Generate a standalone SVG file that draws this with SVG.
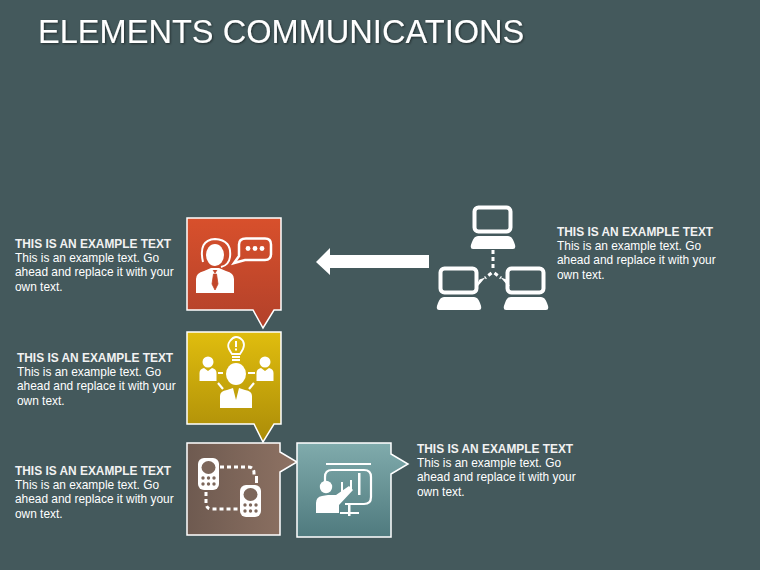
<svg xmlns="http://www.w3.org/2000/svg" width="760" height="570" viewBox="0 0 760 570">
<style>
.t{font-family:"Liberation Sans",Arial,sans-serif;font-size:11.9px;fill:#fff}
.h{font-weight:bold;font-size:11.9px;fill:#f2f2f2}
.title{font-family:"Liberation Sans",Arial,sans-serif;font-size:32.6px;fill:#fff}
.box{stroke:#fff;stroke-width:1.5;stroke-linejoin:miter}
.w{fill:#fff}
.d{fill:none;stroke:#fff;stroke-width:3;stroke-dasharray:4 3}
</style>
<defs>
<linearGradient id="gR" x1="0" y1="0" x2="0" y2="1"><stop offset="0" stop-color="#d8502c"/><stop offset="1" stop-color="#b2412a"/></linearGradient>
<linearGradient id="gY" x1="0" y1="0" x2="0" y2="1"><stop offset="0" stop-color="#e0bd0e"/><stop offset="1" stop-color="#ab8c08"/></linearGradient>
<linearGradient id="gB" x1="0" y1="0" x2="1" y2="0"><stop offset="0" stop-color="#6e5a50"/><stop offset="1" stop-color="#8e7263"/></linearGradient>
<linearGradient id="gT" x1="0" y1="0" x2="0" y2="1"><stop offset="0" stop-color="#80abac"/><stop offset="1" stop-color="#4f7a7e"/></linearGradient>
<filter id="sh" x="-5%" y="-20%" width="110%" height="150%"><feDropShadow dx="1" dy="1" stdDeviation="0.8" flood-color="#000" flood-opacity="0.5"/></filter>
<g id="lap"><rect x="4.500" y="1.500" width="36" height="24" rx="4" fill="none" stroke="#fff" stroke-width="4"/><path d="M8 30H38Q42 30 44 36Q47 43 43 43H3Q-1 43 2 36Q4 30 8 30Z" fill="#fff"/></g>
<g id="phone"><rect x="0" y="0" width="21" height="32" rx="6" fill="#fff"/><ellipse cx="10.500" cy="9.500" rx="7" ry="6.500" fill="#7d675b"/><g fill="#7d675b"><circle cx="5" cy="20" r="1.700"/><circle cx="10.500" cy="20" r="1.700"/><circle cx="16" cy="20" r="1.700"/><circle cx="5" cy="26" r="1.700"/><circle cx="10.500" cy="26" r="1.700"/><circle cx="16" cy="26" r="1.700"/></g></g>
<g id="p"><circle cx="0" cy="-6" r="5.500" fill="#fff"/><path d="M-8.500 13V5Q-8.500 1-4 0L0 3L4 0Q8.500 1 8.500 5V13Z" fill="#fff"/></g>
</defs>
<rect id="background" width="760" height="570" fill="#44595c"/>
<text class="title" x="38" y="43" filter="url(#sh)">ELEMENTS COMMUNICATIONS</text>

<g id="connectors">
<path id="arrow" d="M429 255H330V248L316 262L330 275V268H429Z" fill="#fff"/>
<path class="d" d="M493 250V268"/>
<path class="d" d="M491.500 273L485 278"/>
<path class="d" d="M494.500 273L501 278"/>
<path class="w" d="M483 279L477 286L480 280ZM503 279L509 286L506 280Z" stroke="#fff" stroke-width="1.500"/>
</g>

<g id="node-red">
<path class="box" fill="url(#gR)" d="M187 218H281V310H274L263 328L253 310H187Z"/>
<path class="w" d="M196 293V279Q196 273 204 271L211 268H219L226 271Q234 273 234 279V293Z"/>
<path d="M213 270L215 273L217 270M213.500 274L212 284L215 290L218 284L216.500 274Z" fill="#c2472b" stroke="#c2472b" stroke-width="0.800"/>
<ellipse class="w" cx="215" cy="255" rx="9" ry="11"/>
<path d="M203 262Q198 240 215 239Q232 240 230 257Q229 265 221 267" fill="none" stroke="#fff" stroke-width="2"/>
<path d="M246 238.500H265Q271 238.500 271 244.500V254Q271 260 265 260H245L234 263L239 256V244.500Q239 238.500 246 238.500Z" fill="none" stroke="#fff" stroke-width="2.500"/>
<circle class="w" cx="248" cy="248.500" r="2.400"/><circle class="w" cx="255" cy="248.500" r="2.400"/><circle class="w" cx="262" cy="248.500" r="2.400"/>
</g>

<g id="node-yellow">
<path class="box" fill="url(#gY)" d="M187 332H281V424H274L263 442L254 424H187Z"/>
<path d="M232 354Q230 351 229 349Q227 345 230 341Q233 337 236 337Q240 337 243 341Q245 345 243 349Q242 351 240 354Z" fill="none" stroke="#fff" stroke-width="1.800"/>
<rect class="w" x="232" y="356" width="8" height="2"/><rect class="w" x="232" y="359" width="8" height="2"/>
<rect class="w" x="235" y="341" width="2" height="6"/><rect class="w" x="235" y="348.500" width="2" height="2"/>
<use href="#p" x="208" y="368"/><use href="#p" x="265" y="368"/>
<ellipse class="w" cx="236" cy="374" rx="10" ry="11"/>
<path class="w" d="M220 408V396Q220 391 227 390L233 388L236 400L239 388L245 390Q252 391 252 396V408Z"/>
<path d="M218 373H223M248 373H255M218 383L223 389M254 383L249 389" stroke="#fff" stroke-width="2.200" fill="none"/>
</g>

<g id="node-brown">
<path class="box" fill="url(#gB)" d="M187 443H280V452L297 462L280 472V535H187Z"/>
<use href="#phone" x="198" y="458"/><use href="#phone" x="240" y="485"/>
<path class="d" d="M220 467H248Q254 467 254 473V476"/>
<path class="d" d="M206 492V503Q206 509 212 509H240"/>
<rect class="w" x="255" y="476" width="3" height="7"/>
</g>

<g id="node-teal">
<path class="box" fill="url(#gT)" d="M297 443H391V454L408 464L391 474V537H297Z"/>
<rect class="w" x="326" y="463" width="45" height="2"/>
<path d="M325 483V477Q325 470 332 470H364Q371 470 371 477V497Q371 504 364 504H345" fill="none" stroke="#fff" stroke-width="2.200"/>
<rect class="w" x="341" y="482" width="2" height="10"/><rect class="w" x="350" y="480" width="2" height="10"/><rect class="w" x="358" y="473" width="2.500" height="22"/>
<circle class="w" cx="326" cy="487" r="6.200"/>
<path class="w" d="M316 513V503Q316 497 322 496L328 495H336L349 486L353 490L339 505V513Z"/>
<rect class="w" x="340" y="512" width="19" height="2"/><rect class="w" x="348" y="504" width="2.500" height="12"/>
</g>

<g id="node-laptops">
<use href="#lap" x="470" y="206"/>
<use href="#lap" x="436" y="267"/>
<use href="#lap" x="503" y="267"/>
</g>

<g id="label-red"><text class="t h" x="15" y="248">THIS IS AN EXAMPLE TEXT</text><text class="t" x="15" y="262">This is an example text. Go</text><text class="t" x="15" y="276">ahead and replace it with your</text><text class="t" x="15" y="291">own text.</text></g>
<g id="label-yellow"><text class="t h" x="17" y="362">THIS IS AN EXAMPLE TEXT</text><text class="t" x="17" y="376">This is an example text. Go</text><text class="t" x="17" y="390">ahead and replace it with your</text><text class="t" x="17" y="405">own text.</text></g>
<g id="label-brown"><text class="t h" x="15" y="475">THIS IS AN EXAMPLE TEXT</text><text class="t" x="15" y="489">This is an example text. Go</text><text class="t" x="15" y="503">ahead and replace it with your</text><text class="t" x="15" y="518">own text.</text></g>
<g id="label-teal"><text class="t h" x="417" y="453">THIS IS AN EXAMPLE TEXT</text><text class="t" x="417" y="467">This is an example text. Go</text><text class="t" x="417" y="481">ahead and replace it with your</text><text class="t" x="417" y="496">own text.</text></g>
<g id="label-laptops"><text class="t h" x="557" y="236">THIS IS AN EXAMPLE TEXT</text><text class="t" x="557" y="250">This is an example text. Go</text><text class="t" x="557" y="264">ahead and replace it with your</text><text class="t" x="557" y="279">own text.</text></g>
</svg>
